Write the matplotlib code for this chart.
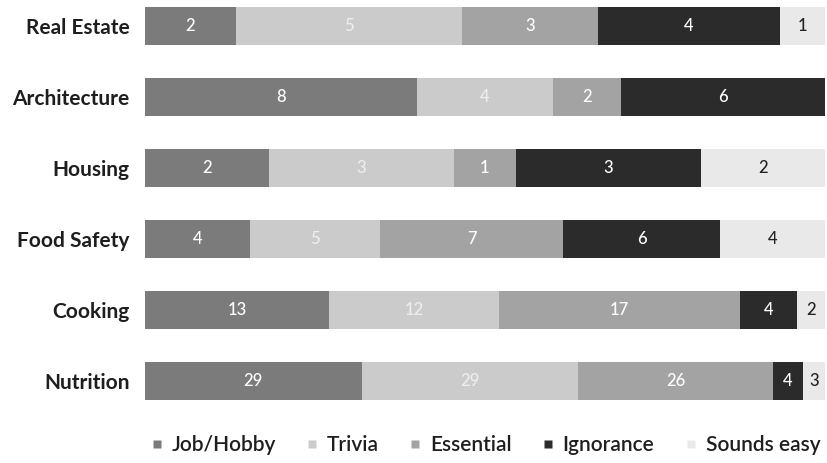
import matplotlib
matplotlib.use("Agg")
import matplotlib.pyplot as plt
from matplotlib.lines import Line2D
import numpy as np

categories = ["Real Estate", "Architecture", "Housing", "Food Safety", "Cooking", "Nutrition"]
series_names = ["Job/Hobby", "Trivia", "Essential", "Ignorance", "Sounds easy"]
job_hobby = [2, 8, 2, 4, 13, 29]
trivia = [5, 4, 3, 5, 12, 29]
essential = [3, 2, 1, 7, 17, 26]
ignorance = [4, 6, 3, 6, 4, 4]
sounds_easy = [1, 0, 2, 4, 2, 3]

series = [job_hobby, trivia, essential, ignorance, sounds_easy]
colors = ["#7b7b7b", "#cbcbcb", "#a3a3a3", "#2b2b2b", "#e9e9e9"]
label_colors = ["white", "#eeeeee", "white", "white", "#222222"]

plt.rcParams["font.family"] = ["Lato", "DejaVu Sans"]

fig = plt.figure(figsize=(8.28, 4.63), dpi=100)
ax = fig.add_axes([145 / 828, 1 - 410 / 463, 680 / 828, 410 / 463])

data = np.array(series, dtype=float)
totals = data.sum(axis=0)
shares = data / totals
y = np.arange(len(categories))
left = np.zeros(len(categories))

for k, name in enumerate(series_names):
    w = shares[k]
    ax.barh(y, w, left=left, height=0.54, color=colors[k], edgecolor="none")
    for i in range(len(categories)):
        v = data[k, i]
        if v > 0:
            ax.text(left[i] + w[i] / 2, y[i], f"{int(v)}", ha="center", va="center",
                    fontsize=12, fontweight="medium", color=label_colors[k])
    left += w

ax.set_xlim(0, 1)
ax.set_ylim(5.408, -0.366)
ax.set_yticks(y)
ax.set_yticklabels(categories, fontsize=15, fontweight="bold", color="#1e1e1e")
ax.tick_params(axis="y", length=0, pad=11)
ax.set_xticks([])
for s in ax.spines.values():
    s.set_visible(False)

handles = [Line2D([0], [0], marker="s", linestyle="none", markersize=6,
                  markerfacecolor=c, markeredgecolor="none") for c in colors]
leg = fig.legend(handles, series_names, loc="center", bbox_to_anchor=(486 / 828, 1 - 445 / 463),
                 ncol=5, frameon=False, fontsize=15, handlelength=0.5, handletextpad=0.45,
                 columnspacing=1.5, labelcolor="#1e1e1e")
for t in leg.get_texts():
    t.set_fontweight("semibold")

fig.savefig("out.png", dpi=100)
